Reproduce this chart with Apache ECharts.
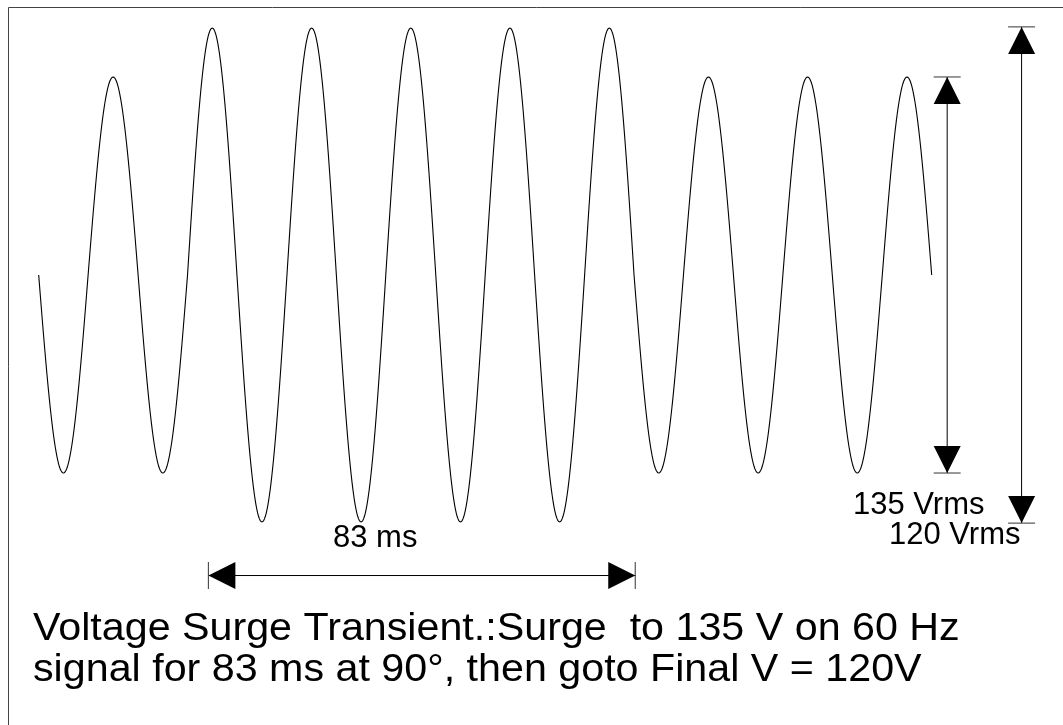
<!DOCTYPE html>
<html>
<head>
<meta charset="utf-8">
<script src="https://cdn.jsdelivr.net/npm/echarts@6/dist/echarts.min.js"></script>
<style>
  html, body { margin: 0; padding: 0; background: #fff; }
  #chart { width: 1063px; height: 725px; }
</style>
</head>
<body>
<div id="chart"></div>
<script>
// ---- Data ----
// Zero-crossing times of the waveform (ms), 60 Hz signal
var crossingsMs = [0, 8.3, 16.7, 25, 33.3, 41.7, 50, 58.3, 66.7, 75, 83.3, 91.7, 100, 108.3, 116.7, 125, 133.3, 141.7, 150];
// Signed peak value (V) of each half cycle between consecutive crossings
var halfCyclePeaksV = [-170, 170, -170, 212, -212, 212, -212, 212, -212, 212, -212, 212, -170, 170, -170, 170, -170, 170];
// Dimension arrows: [x1 (ms), y1 (V), x2 (ms), y2 (V)]
var surgeSpanArrow = [28.5, -258, 100.2, -258];
var finalAmpArrow = [152.6, 170, 152.6, -170];
var surgeAmpArrow = [165.1, 213, 165.1, -213];
// Texts
var spanLabel = '83 ms';
var ampLabelA = '135 Vrms';
var ampLabelB = '120 Vrms';
var captionLines = ['Voltage Surge Transient.:Surge  to 135 V on 60 Hz', 'signal for 83 ms at 90\u00b0, then goto Final V = 120V'];

// ---- Build series data ----
var halfCycles = [];
for (var i = 0; i < halfCyclePeaksV.length; i++) {
  halfCycles.push([crossingsMs[i], crossingsMs[i + 1], halfCyclePeaksV[i]]);
}
var arrows = [surgeSpanArrow, finalAmpArrow, surgeAmpArrow];

var FONT = '"Liberation Sans", Arial, Helvetica, sans-serif';

var chart = echarts.init(document.getElementById('chart'), null, { renderer: 'canvas' });

function waveItem(params, api) {
  var t0 = api.value(0), t1 = api.value(1), pk = api.value(2);
  var pts = [];
  var N = 60;
  for (var k = 0; k <= N; k++) {
    var f = k / N;
    pts.push(api.coord([t0 + (t1 - t0) * f, pk * Math.sin(Math.PI * f)]));
  }
  return {
    type: 'polyline',
    shape: { points: pts },
    style: { stroke: '#000', lineWidth: 1.1, fill: null }
  };
}

function arrowItem(params, api) {
  var p1 = api.coord([api.value(0), api.value(1)]);
  var p2 = api.coord([api.value(2), api.value(3)]);
  var dx = p2[0] - p1[0], dy = p2[1] - p1[1];
  var len = Math.sqrt(dx * dx + dy * dy);
  var ux = dx / len, uy = dy / len;
  var nx = -uy, ny = ux;
  var L = 27, W = 13.5;
  function head(tip, sx, sy) {
    var bx = tip[0] + sx * L, by = tip[1] + sy * L;
    return {
      type: 'polygon',
      shape: { points: [tip, [bx + nx * W, by + ny * W], [bx - nx * W, by - ny * W]] },
      style: { fill: '#000', stroke: null }
    };
  }
  function bar(p) {
    return {
      type: 'line',
      shape: { x1: p[0] + nx * W, y1: p[1] + ny * W, x2: p[0] - nx * W, y2: p[1] - ny * W },
      style: { stroke: '#333', lineWidth: 1 }
    };
  }
  return {
    type: 'group',
    children: [
      { type: 'line', shape: { x1: p1[0], y1: p1[1], x2: p2[0], y2: p2[1] }, style: { stroke: '#000', lineWidth: 1 } },
      head(p1, ux, uy),
      head(p2, -ux, -uy),
      bar(p1),
      bar(p2)
    ]
  };
}

function txt(x, y, text, size, sx) {
  return {
    type: 'text',
    x: x, y: y,
    scaleX: sx || 1,
    style: {
      text: text,
      fill: '#000',
      font: size + 'px ' + FONT,
      align: 'left',
      verticalAlign: 'middle'
    }
  };
}

chart.setOption({
  animation: false,
  backgroundColor: '#fff',
  grid: { left: 38.7, top: 10, width: 893, height: 530, containLabel: false },
  xAxis: { type: 'value', min: 0, max: 150, show: false },
  yAxis: { type: 'value', min: -227.5, max: 227.5, show: false },
  series: [
    {
      type: 'custom',
      name: 'waveform',
      renderItem: waveItem,
      encode: { x: [0, 1], y: 2 },
      data: halfCycles,
      clip: false,
      silent: true
    },
    {
      type: 'custom',
      name: 'dimensions',
      renderItem: arrowItem,
      encode: { x: [0, 2], y: [1, 3] },
      data: arrows,
      clip: false,
      silent: true
    }
  ],
  graphic: [
    {
      type: 'rect',
      shape: { x: 8.5, y: 7.5, width: 1200, height: 900 },
      style: { fill: null, stroke: '#444', lineWidth: 1 },
      silent: true
    },
    txt(333, 538, spanLabel, 31),
    txt(853, 505, ampLabelA, 31),
    txt(889, 535, ampLabelB, 31),
    txt(33, 630, captionLines[0], 38, 1.085),
    txt(33, 671, captionLines[1], 38, 1.085)
  ]
});
</script>
</body>
</html>
